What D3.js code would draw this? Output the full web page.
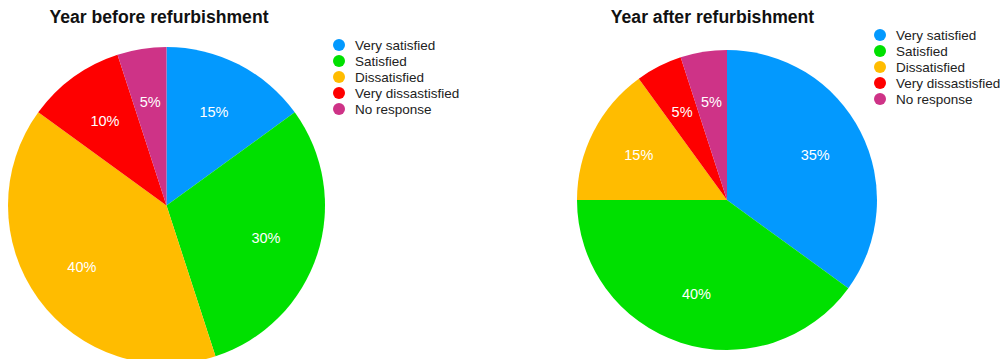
<!DOCTYPE html>
<html><head><meta charset="utf-8">
<script src="https://cdn.jsdelivr.net/npm/d3@7"></script>
<style>body{margin:0;background:#fff;}svg{display:block;}</style>
</head><body>
<svg id="c" width="1004" height="359"></svg>
<script>
const categories = ["Very satisfied","Satisfied","Dissatisfied","Very dissastisfied","No response"];
const beforeValues = [15,30,40,10,5];
const afterValues = [35,40,15,5,5];
const colors = ["#0399FE","#00E000","#FFBC00","#FE0000","#CE3387"];
const titles = ["Year before refurbishment","Year after refurbishment"];

const svg = d3.select("#c");
const font = "'Liberation Sans', Helvetica, Arial, sans-serif";
const color = d3.scaleOrdinal().domain(categories).range(colors);

const charts = [
  {values: beforeValues, title: titles[0], cx:166.5, cy:205.5, r:158.5, tx:159, ty:23, lx:339, ly:45},
  {values: afterValues, title: titles[1], cx:727, cy:200, r:150, tx:712.5, ty:23, lx:880, ly:35}
];

charts.forEach(ch => {
  const data = categories.map((c,i)=>({cat:c, v:ch.values[i]}));
  const pie = d3.pie().value(d=>d.v).sort(null);
  const arc = d3.arc().innerRadius(0).outerRadius(ch.r);
  const labelArc = d3.arc().innerRadius(ch.r*0.66).outerRadius(ch.r*0.66);
  const g = svg.append("g").attr("transform",`translate(${ch.cx},${ch.cy})`);
  const arcs = pie(data);
  g.selectAll("path").data(arcs).join("path")
    .attr("d",arc).attr("fill",d=>color(d.data.cat));
  g.selectAll("text").data(arcs).join("text")
    .attr("transform",d=>`translate(${labelArc.centroid(d)})`)
    .attr("text-anchor","middle").attr("dy","0.35em")
    .attr("fill","#fff").attr("font-family",font).attr("font-size",14.5)
    .text(d=>d.data.v+"%");
  svg.append("text").attr("x",ch.tx).attr("y",ch.ty)
    .attr("text-anchor","middle").attr("font-family",font)
    .attr("font-weight","bold").attr("font-size",17.6).attr("fill","#111")
    .text(ch.title);
  const lg = svg.append("g").attr("transform",`translate(${ch.lx},${ch.ly})`);
  const y = d3.scalePoint().domain(categories).range([0,64]);
  lg.selectAll("circle").data(categories).join("circle")
    .attr("cx",0).attr("cy",d=>y(d)).attr("r",6).attr("fill",d=>color(d));
  lg.selectAll("text").data(categories).join("text")
    .attr("x",16).attr("y",d=>y(d)).attr("dy","0.35em")
    .attr("font-family",font).attr("font-size",13.5).attr("fill","#222")
    .text(d=>d);
});
</script>
</body></html>
